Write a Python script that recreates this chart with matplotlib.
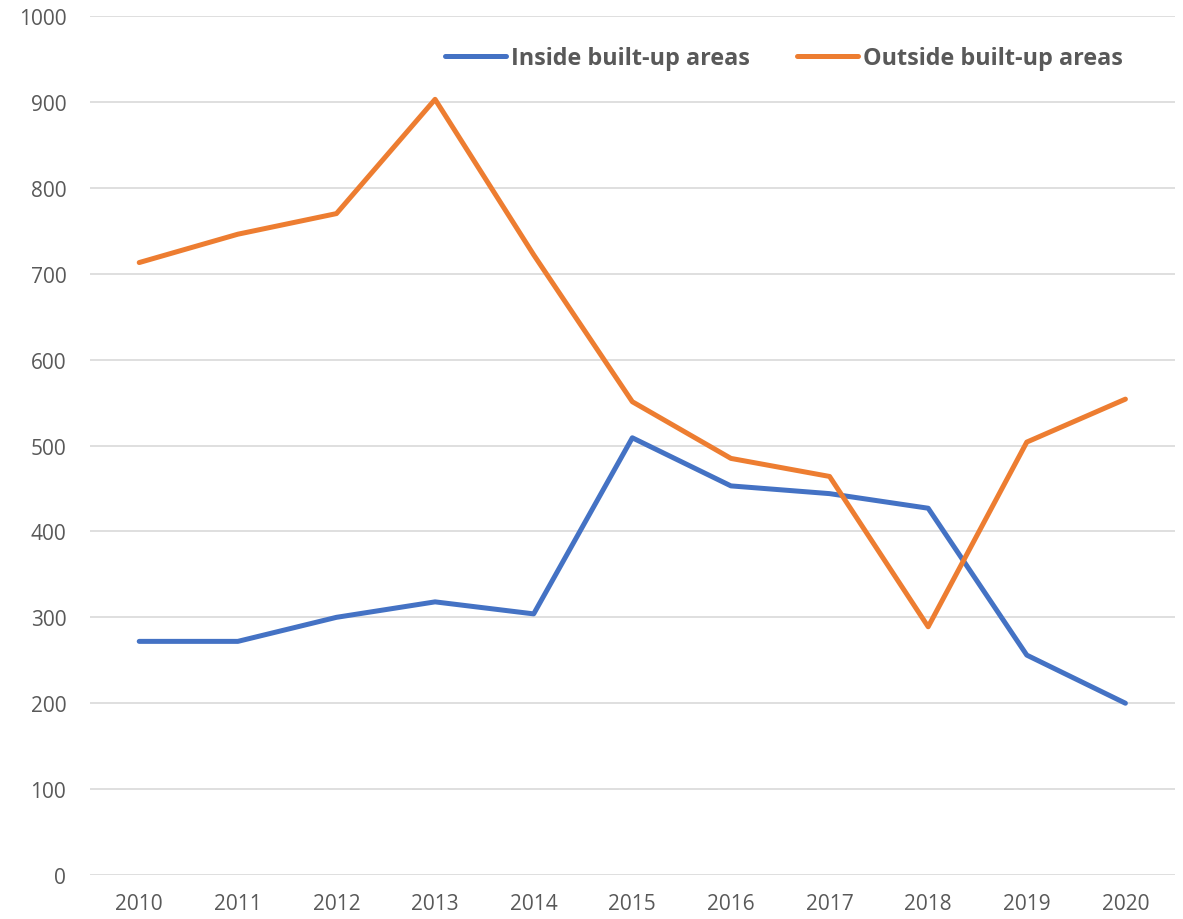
import matplotlib.pyplot as plt
import numpy as np

# data
years = ['2010', '2011', '2012', '2013', '2014', '2015',
         '2016', '2017', '2018', '2019', '2020']
inside = [272, 272, 300, 318, 304, 509, 453, 444, 427, 256, 200]
outside = [713, 746, 770, 903, 722, 551, 485, 464, 289, 504, 554]

grey = '#595959'
plt.rcParams['font.family'] = ['Open Sans', 'DejaVu Sans']

fig = plt.figure(figsize=(11.83, 9.2), dpi=100, facecolor='white')
ax = fig.add_axes([0.076, 0.0478, 0.917, 0.9337])

x = np.arange(len(years))
ax.plot(x, inside, color='#4472C4', linewidth=3.6, solid_capstyle='round',
        solid_joinstyle='round', label='Inside built-up areas', zorder=3)
ax.plot(x, outside, color='#ED7D31', linewidth=3.6, solid_capstyle='round',
        solid_joinstyle='round', label='Outside built-up areas', zorder=3)

ax.set_xlim(-0.5, len(years) - 0.5)
ax.set_ylim(0, 1000)
ax.set_yticks(np.arange(0, 1001, 100))
ax.set_xticks(x)
ax.set_xticklabels(years)

ax.grid(axis='y', color='#d9d9d9', linewidth=1.2, zorder=0)
ax.set_axisbelow(True)
for s in ax.spines.values():
    s.set_visible(False)
ax.tick_params(axis='both', length=0, labelsize=15, colors=grey)
ax.tick_params(axis='y', pad=17)
ax.tick_params(axis='x', pad=13)

leg = ax.legend(loc='upper right', ncol=2, frameon=False,
                bbox_to_anchor=(0.972, 0.989), handlelength=2.6,
                handletextpad=0.25, columnspacing=2.0,
                prop={'weight': 'bold', 'size': 16.8})
for t in leg.get_texts():
    t.set_color(grey)

fig.savefig('out.png', dpi=100, facecolor='white')
